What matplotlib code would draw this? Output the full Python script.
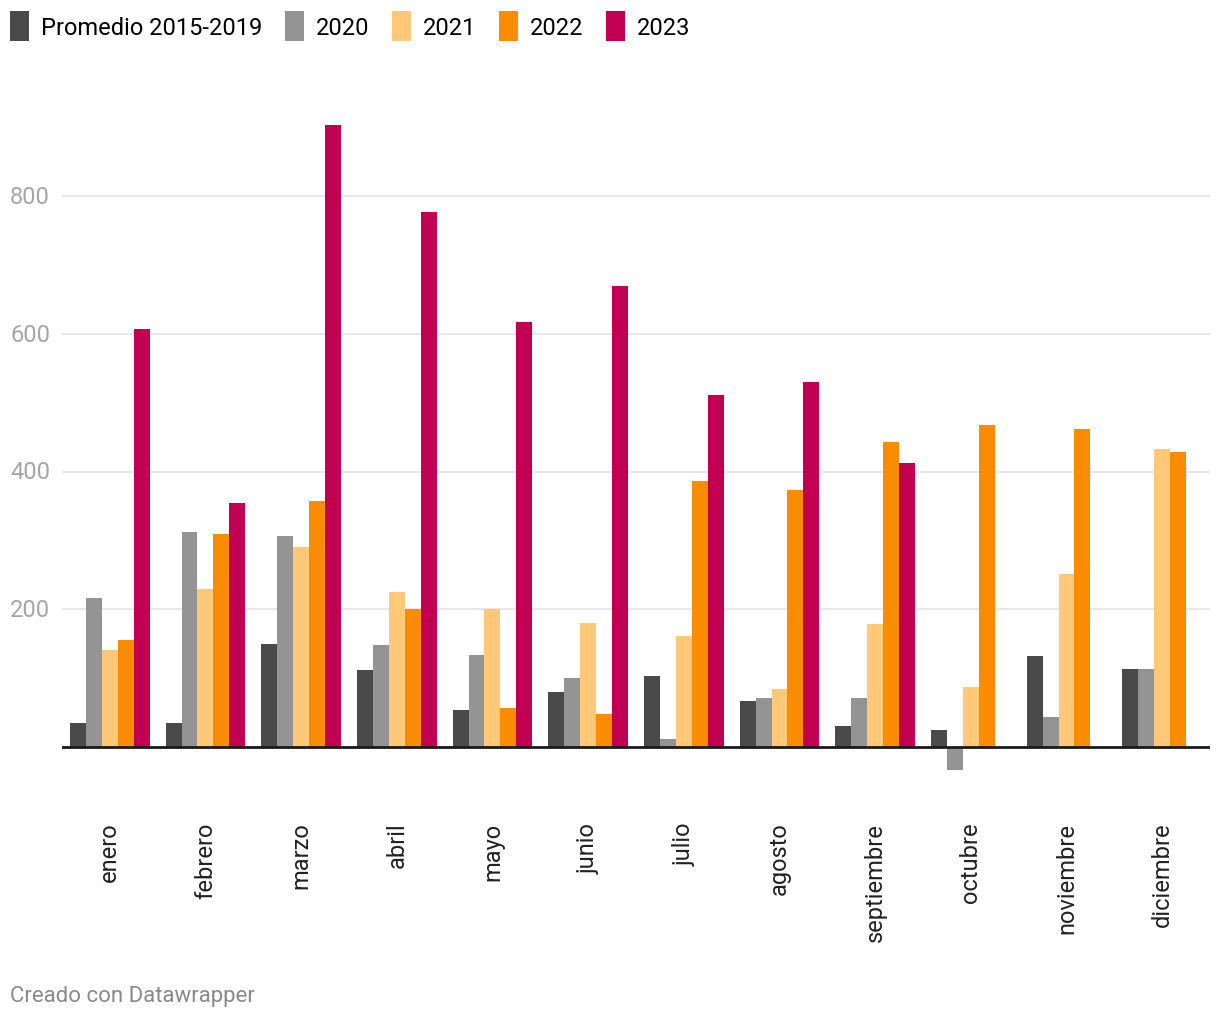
import numpy as np
import matplotlib

matplotlib.use("Agg")
import matplotlib.pyplot as plt
from matplotlib.transforms import blended_transform_factory

plt.rcParams["font.family"] = ["Roboto", "DejaVu Sans"]

MONTHS = ["enero", "febrero", "marzo", "abril", "mayo", "junio", "julio",
          "agosto", "septiembre", "octubre", "noviembre", "diciembre"]
SERIES = ["Promedio 2015-2019", "2020", "2021", "2022", "2023"]

prom = [35, 35, 149, 112, 54, 80, 103, 67, 30, 25, 132, 114]
y2020 = [217, 313, 306, 148, 133, 101, 12, 71, 71, -34, 43, 114]
y2021 = [141, 230, 290, 225, 200, 180, 161, 84, 178, 87, 252, 433]
y2022 = [155, 310, 358, 201, 57, 48, 386, 374, 443, 468, 462, 429]
y2023 = [607, 355, 904, 777, 617, 670, 512, 530, 412, np.nan, np.nan, np.nan]

COLORS = ["#4a4a4a", "#949494", "#fdc978", "#f98c00", "#c20052"]
YTICKS = [200, 400, 600, 800]

fig = plt.figure(figsize=(12.2, 10.2), dpi=100)
ax = fig.add_axes([0.0508, 0.2329, 0.941, 0.6546])

x = np.arange(len(MONTHS))
w = 0.167
data = [prom, y2020, y2021, y2022, y2023]
for i, (vals, name, col) in enumerate(zip(data, SERIES, COLORS)):
    ax.bar(x + (i - 2) * w, vals, width=w, color=col, label=name,
           linewidth=0, zorder=3)

ax.set_xlim(-0.5, len(MONTHS) - 0.5)
ax.set_ylim(-50, 920)

# y labels sit at the far left of the figure, gridlines start after them
lab_tr = blended_transform_factory(fig.transFigure, ax.transData)
for v in YTICKS:
    ax.axhline(v, color="#e6e6e6", linewidth=1.3, zorder=1)
    ax.text(10 / 1220, v, str(v), transform=lab_tr,
            ha="left", va="center", fontsize=17, color="#a6a6a6")
ax.axhline(0, color="#1a1a1a", linewidth=2, zorder=4)

ax.set_yticks([])
ax.set_xticks(x)
ax.set_xticklabels(MONTHS, rotation=90, fontsize=17, color="#222222",
                   va="top")
ax.tick_params(axis="x", length=0, pad=29)
for s in ax.spines.values():
    s.set_visible(False)

handles, labels = ax.get_legend_handles_labels()
fig.legend(handles, labels, loc="upper left",
           bbox_to_anchor=(3 / 1220, 1 - 5 / 1020),
           ncol=5, frameon=False, fontsize=17, handlelength=0.8,
           handleheight=1.6, handletextpad=0.5, columnspacing=0.97,
           borderaxespad=0.0, borderpad=0.3)

fig.text(10 / 1220, 1 - 997 / 1020, "Creado con Datawrapper", fontsize=16,
         color="#8a8a8a", ha="left", va="center")

fig.savefig("out.png", dpi=100)
